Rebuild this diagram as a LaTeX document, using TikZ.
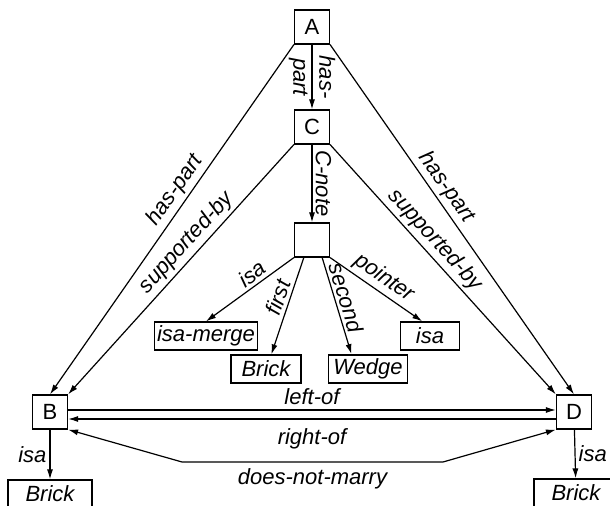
\documentclass[tikz,border=0pt]{standalone}
\usepackage{fontspec}
\setmainfont{Liberation Sans}
\usetikzlibrary{arrows.meta}

\begin{document}
\begin{tikzpicture}[x=0.5pt,y=-0.5pt,font=\fontsize{11}{13}\selectfont,
 unit/.style={draw,line width=0.6pt,minimum width=17.5pt,minimum height=17pt,inner sep=0pt},
 val/.style={draw,line width=0.6pt,minimum height=14pt,inner sep=0pt,font=\fontsize{11}{13}\selectfont\itshape},
 lbl/.style={font=\fontsize{11}{13}\selectfont\itshape,inner sep=1.5pt},
 link/.style={-{Latex[length=5pt,width=3pt]},line width=0.6pt},
 both/.style={{Latex[length=5pt,width=3pt]}-{Latex[length=5pt,width=3pt]},line width=0.6pt}]
\useasboundingbox (0,0) rectangle (610,506);
% frame nodes
\node[unit] (A) at (312,27) {A};
\node[unit] (C) at (312,127) {C};
\node[unit] (note) at (312,240) {};
\node[unit] (B) at (50,412) {B};
\node[unit] (D) at (574,412) {D};
% slot values
\node[val,minimum width=51.5pt] (merge) at (206,336) {isa-merge};
\node[val,minimum width=35pt] (brick) at (266,369) {Brick};
\node[val,minimum width=39.5pt,line width=0.9pt] (wedge) at (368,369) {Wedge};
\node[val,minimum width=29.5pt] (isaR) at (430,336) {isa};
\node[val,minimum width=42pt] (brickL) at (50,494) {Brick};
\node[val,minimum width=42pt] (brickR) at (576,493) {Brick};
\coordinate (kL) at (182,462);
\coordinate (kR) at (443,462);
% relations
\draw[link] (A) -- node[lbl,rotate=-90,align=center] {has-\\part} (C);
\draw[link] (C) -- node[lbl,rotate=-90,anchor=south] {C-note} (note);
\draw[link] (A.south west) -- node[lbl,sloped,above,pos=0.44] {has-part} (B.north);
\draw[link] (C.south west) -- node[lbl,sloped,above,pos=0.43] {supported-by} (B.north east);
\draw[link] (A.south east) -- node[lbl,sloped,above,pos=0.43] {has-part} (D.north);
\draw[link] (C.south east) -- node[lbl,sloped,above,pos=0.42] {supported-by} (D.north west);
\draw[link] (note.south west) -- node[lbl,sloped,above,pos=0.4] {isa} (merge.north);
\draw[link] (note.245) -- node[lbl,sloped,above,pos=0.45] {first} (brick.70);
\draw[link] (note.300) -- node[lbl,sloped,above,pos=0.45] {second} (wedge.138);
\draw[link] (note.south east) -- node[lbl,sloped,above,pos=0.5] {pointer} (isaR.118);
\draw[link] ([yshift=1pt]B.east) -- node[lbl,above=1pt] {left-of} ([yshift=1pt]D.west);
\draw[link] ([yshift=-3.5pt]D.west) -- node[lbl,below=3pt] {right-of} ([yshift=-3.5pt]B.east);
\draw[both] (B.south east) -- (kL) -- node[lbl,below=1.5pt] {does-not-marry} (kR) -- (D.south west);
\draw[link] (B) -- node[lbl,left] {isa} (brickL);
\draw[link] (D) -- node[lbl,right] {isa} (brickR);
\end{tikzpicture}
\end{document}
